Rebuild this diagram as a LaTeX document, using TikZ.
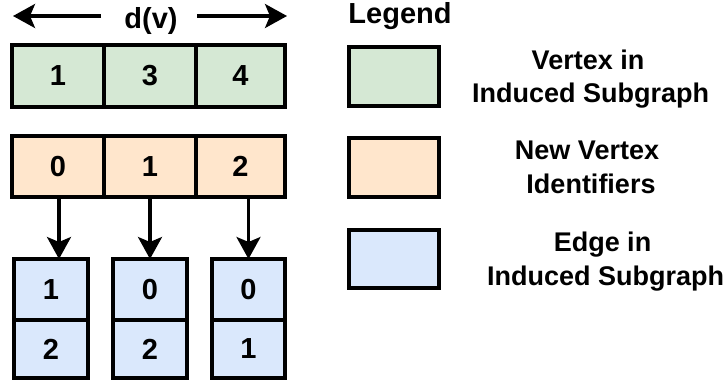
\documentclass[tikz,border=0pt]{standalone}
\usepackage{fontspec}
\setmainfont{Liberation Sans}
\usetikzlibrary{arrows.meta}
\definecolor{vgreen}{HTML}{D5E8D4}
\definecolor{vorange}{HTML}{FFE6CC}
\definecolor{vblue}{HTML}{DAE8FC}
\tikzset{
  cell/.style={draw=black, line width=4.5pt, inner sep=0pt, outer sep=0pt,
    font=\fontsize{29}{33}\selectfont\bfseries},
  arr/.style={line width=3.2pt, -{Stealth[length=22pt,width=24pt,inset=5pt]}},
  lbl/.style={anchor=base, inner sep=0pt, font=\fontsize{27}{33}\selectfont\bfseries},
  head/.style={lbl, font=\fontsize{29}{33}\selectfont\bfseries}
}
\begin{document}
\begin{tikzpicture}[x=1pt,y=-1pt]
\useasboundingbox (0,0) rectangle (728,383);

% vertices of the induced subgraph
\node[cell, fill=vgreen, minimum width=92pt, minimum height=62pt] (g0) at (58,76) {1};
\node[cell, fill=vgreen, minimum width=92pt, minimum height=62pt] (g1) at (150,76) {3};
\node[cell, fill=vgreen, minimum width=89pt, minimum height=62pt] (g2) at (240.5,76) {4};

% width label
\node[head] (dv) at (151,28) {d(v)};
\coordinate (dl) at (13,16);
\coordinate (dr) at (287,16);
\draw[arr] (101,16) -- (dl);
\draw[arr] (197,16) -- (dr);

% new vertex identifiers
\node[cell, fill=vorange, minimum width=92pt, minimum height=61pt] (o0) at (58,166.5) {0};
\node[cell, fill=vorange, minimum width=92pt, minimum height=61pt] (o1) at (150,166.5) {1};
\node[cell, fill=vorange, minimum width=89pt, minimum height=61pt] (o2) at (240.5,166.5) {2};

% edge lists
\node[cell, fill=vblue, minimum width=74pt, minimum height=61pt] (e0a) at (51,289.5) {1};
\node[cell, fill=vblue, minimum width=74pt, minimum height=58pt] (e0b) at (51,349) {2};
\node[cell, fill=vblue, minimum width=74pt, minimum height=61pt] (e1a) at (150,289.5) {0};
\node[cell, fill=vblue, minimum width=74pt, minimum height=58pt] (e1b) at (150,349) {2};
\node[cell, fill=vblue, minimum width=73pt, minimum height=61pt] (e2a) at (248.5,289.5) {0};
\node[cell, fill=vblue, minimum width=73pt, minimum height=58pt] (e2b) at (248.5,349) {1};

% identifier to edge list
\draw[arr] ([xshift=1pt]o0.south) -- ([xshift=1pt]o0.south |- e0a.north);
\draw[arr] (o1.south) -- (e1a.north);
\draw[arr] (e2a.north |- o2.south) -- (e2a.north);

% legend
\node[head] (lt) at (400,23) {Legend};
\node[cell, fill=vgreen, minimum width=90pt, minimum height=59pt] (lg) at (394,76.5) {};
\node[cell, fill=vorange, minimum width=90pt, minimum height=59pt] (lo) at (394,167.5) {};
\node[cell, fill=vblue, minimum width=90pt, minimum height=58pt] (lb) at (394,259) {};

\node[lbl] (t1a) at (588,69) {Vertex in};
\node[lbl] (t1b) at (590.5,102) {Induced Subgraph};
\node[lbl] (t2a) at (587,159) {New Vertex};
\node[lbl] (t2b) at (591,193) {Identifiers};
\node[lbl] (t3a) at (602.5,251) {Edge in};
\node[lbl] (t3b) at (605.5,285) {Induced Subgraph};
\end{tikzpicture}
\end{document}
